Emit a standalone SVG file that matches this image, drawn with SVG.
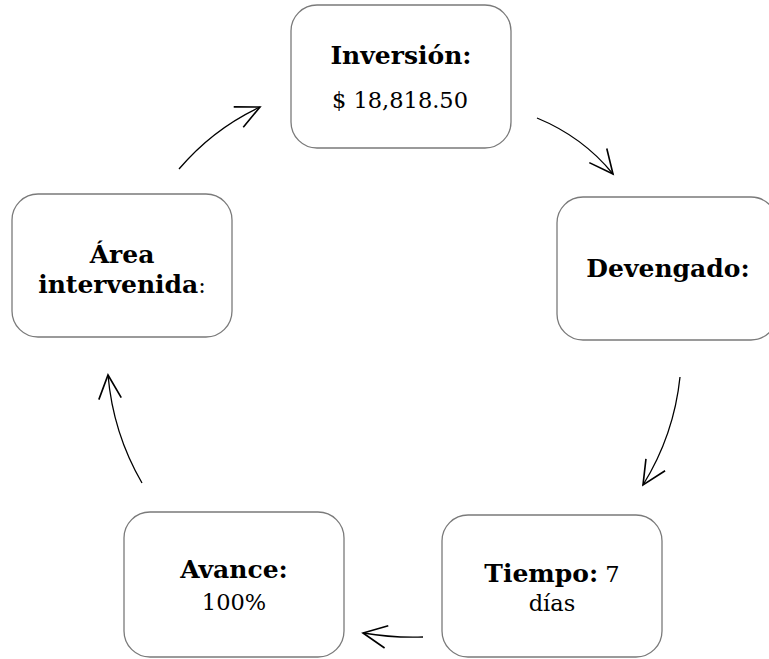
<svg xmlns="http://www.w3.org/2000/svg" width="769" height="659" viewBox="0 0 769 659">
<style>
.box{fill:#ffffff;stroke:#7a7a7a;stroke-width:1.3}
.b{font-family:"DejaVu Serif","Liberation Serif",serif;font-weight:bold;font-size:25px;fill:#000}
.r{font-family:"DejaVu Serif","Liberation Serif",serif;font-weight:normal;font-size:22.5px;fill:#000}
.con{fill:none;stroke:#000;stroke-width:1.3;marker-end:url(#ah)}
</style>
<defs>
<marker id="ah" markerUnits="userSpaceOnUse" markerWidth="30" markerHeight="30" refX="0" refY="0" viewBox="-22 -12 24 24" orient="auto">
<path d="M-19,-9 L0,0 L-19,9" fill="none" stroke="#000" stroke-width="1.3"/>
</marker>
</defs>
<rect width="769" height="659" fill="#ffffff"/>
<g id="connectors">
<path class="con" d="M179,169 Q213,129 260,107"/>
<path class="con" d="M537,118 Q583,137 613,174"/>
<path class="con" d="M680,377 Q674,435 643,485"/>
<path class="con" d="M423,637 Q393,638 363,633"/>
<path class="con" d="M142,483 Q113,433 108,375"/>
</g>
<g id="inversion">
<rect class="box" x="291" y="5" width="220" height="143" rx="26"/>
<text class="b" x="401" y="64" text-anchor="middle">Inversión:</text>
<text class="r" x="400" y="108" text-anchor="middle">$ 18,818.50</text>
</g>
<g id="devengado">
<rect class="box" x="557" y="197" width="220" height="143" rx="26"/>
<text class="b" x="668" y="277" text-anchor="middle">Devengado:</text>
</g>
<g id="tiempo">
<rect class="box" x="442" y="515" width="220" height="142" rx="26"/>
<text x="552" y="582" text-anchor="middle"><tspan class="b">Tiempo:</tspan><tspan class="r"> 7</tspan></text>
<text class="r" x="552" y="611" text-anchor="middle">días</text>
</g>
<g id="avance">
<rect class="box" x="124" y="512" width="220" height="145" rx="26"/>
<text class="b" x="234" y="578" text-anchor="middle">Avance:</text>
<text class="r" x="234" y="610" text-anchor="middle">100%</text>
</g>
<g id="area">
<rect class="box" x="12" y="194" width="220" height="143" rx="26"/>
<text class="b" x="122" y="263" text-anchor="middle">Área</text>
<text x="122" y="293" text-anchor="middle"><tspan class="b">intervenida</tspan><tspan class="r">:</tspan></text>
</g>
</svg>
